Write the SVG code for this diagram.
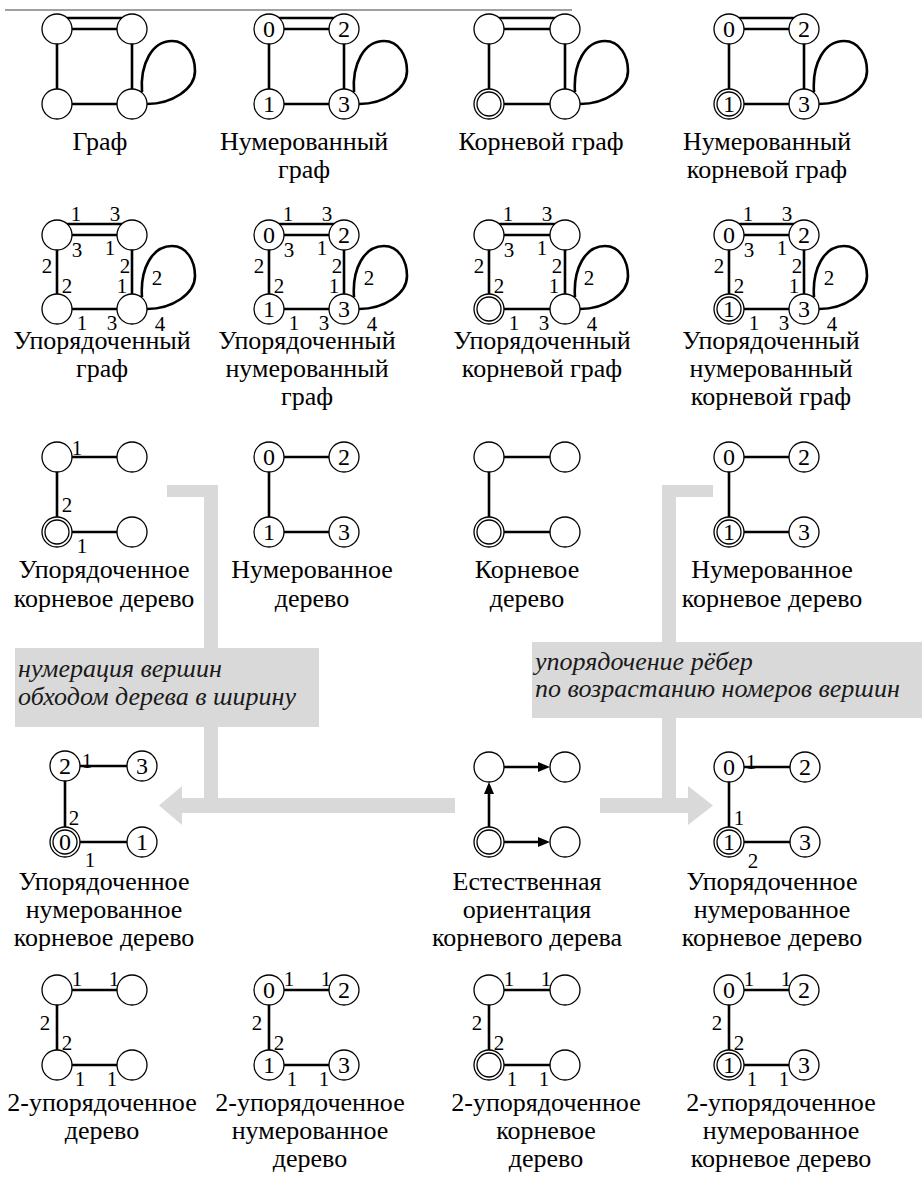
<svg xmlns="http://www.w3.org/2000/svg" width="922" height="1183" viewBox="0 0 922 1183">
<rect width="922" height="1183" fill="#fff"/>
<line x1="5" y1="10" x2="572" y2="10" stroke="#808080" stroke-width="1.5"/>
<g id="transforms" fill="#d9d9d9">
<path d="M167,485H218V798H455V813H182V825L159,805.5L182,786V798H204V497H167Z"/>
<path d="M662,485H713V497H676V798H688V786L713,805.5L688,825V813H600V798H662Z"/>
<rect x="15" y="648" width="304" height="79"/>
<rect x="532" y="642" width="390" height="76"/>
</g>
<g id="box-texts" fill="#1a1a1a">
<text x="18" y="677" font-family="Liberation Serif" font-size="26" font-style="italic">нумерация вершин</text>
<text x="18" y="705" font-family="Liberation Serif" font-size="26" font-style="italic">обходом дерева в ширину</text>
<text x="535" y="670" font-family="Liberation Serif" font-size="26" font-style="italic">упорядочение рёбер</text>
<text x="535" y="697" font-family="Liberation Serif" font-size="26" font-style="italic">по возрастанию номеров вершин</text>
</g>
<g id="connectors" stroke="#000" stroke-width="2.6" fill="none">
<path d="M57,29H132M57,18H132M57,29V104M132,29V104M57,104H132M142,92C140,64 152,41 172,41C187,41 195,56 195,71C195,89 172,104 147,104"/>
<path d="M269,29H344M269,18H344M269,29V104M344,29V104M269,104H344M354,92C352,64 364,41 384,41C399,41 407,56 407,71C407,89 384,104 359,104"/>
<path d="M489,29H565M489,18H565M489,29V104M565,29V104M489,104H565M575,92C573,64 585,41 605,41C620,41 628,56 628,71C628,89 605,104 580,104"/>
<path d="M729,29H804M729,18H804M729,29V104M804,29V104M729,104H804M814,92C812,64 824,41 844,41C859,41 867,56 867,71C867,89 844,104 819,104"/>
<path d="M57,235H132M57,224H132M57,235V309M132,235V309M57,309H132M142,297C140,269 152,246 172,246C187,246 195,261 195,276C195,294 172,309 147,309"/>
<path d="M269,235H344M269,224H344M269,235V309M344,235V309M269,309H344M354,297C352,269 364,246 384,246C399,246 407,261 407,276C407,294 384,309 359,309"/>
<path d="M489,235H565M489,224H565M489,235V309M565,235V309M489,309H565M575,297C573,269 585,246 605,246C620,246 628,261 628,276C628,294 605,309 580,309"/>
<path d="M729,235H804M729,224H804M729,235V309M804,235V309M729,309H804M814,297C812,269 824,246 844,246C859,246 867,261 867,276C867,294 844,309 819,309"/>
<path d="M57,457H132M57,457V532M57,532H132"/>
<path d="M269,457H344M269,457V532M269,532H344"/>
<path d="M489,457H565M489,457V532M489,532H565"/>
<path d="M729,457H804M729,457V532M729,532H804"/>
<path d="M65,766H142M65,766V842M65,842H142"/>
<path d="M504,767H540M489,827V792M504,842H540"/>
<path d="M729,767H805M729,767V842M729,842H805"/>
<path d="M57,990H132M57,990V1065M57,1065H132"/>
<path d="M269,990H344M269,990V1065M269,1065H344"/>
<path d="M489,990H565M489,990V1065M489,1065H565"/>
<path d="M729,990H804M729,990V1065M729,1065H804"/>
<path d="M538,762L550,767L538,772Z M484,794L489,782L494,794Z M538,837L550,842L538,847Z" fill="#000" stroke="none"/>
</g>
<g id="edge-labels" fill="#000" text-anchor="middle">
<text x="76" y="221" font-family="Liberation Serif" font-size="21">1</text><text x="115" y="221" font-family="Liberation Serif" font-size="21">3</text><text x="77" y="257" font-family="Liberation Serif" font-size="21">3</text><text x="110" y="255" font-family="Liberation Serif" font-size="21">1</text><text x="47" y="273" font-family="Liberation Serif" font-size="21">2</text><text x="67" y="293" font-family="Liberation Serif" font-size="21">2</text><text x="125" y="273" font-family="Liberation Serif" font-size="21">2</text><text x="122" y="293" font-family="Liberation Serif" font-size="21">1</text><text x="157" y="285" font-family="Liberation Serif" font-size="21">2</text><text x="82" y="330" font-family="Liberation Serif" font-size="21">1</text><text x="112" y="330" font-family="Liberation Serif" font-size="21">3</text><text x="160" y="331" font-family="Liberation Serif" font-size="21">4</text>
<text x="288" y="221" font-family="Liberation Serif" font-size="21">1</text><text x="327" y="221" font-family="Liberation Serif" font-size="21">3</text><text x="289" y="257" font-family="Liberation Serif" font-size="21">3</text><text x="322" y="255" font-family="Liberation Serif" font-size="21">1</text><text x="259" y="273" font-family="Liberation Serif" font-size="21">2</text><text x="279" y="293" font-family="Liberation Serif" font-size="21">2</text><text x="337" y="273" font-family="Liberation Serif" font-size="21">2</text><text x="334" y="293" font-family="Liberation Serif" font-size="21">1</text><text x="369" y="285" font-family="Liberation Serif" font-size="21">2</text><text x="294" y="330" font-family="Liberation Serif" font-size="21">1</text><text x="324" y="330" font-family="Liberation Serif" font-size="21">3</text><text x="372" y="331" font-family="Liberation Serif" font-size="21">4</text>
<text x="508" y="221" font-family="Liberation Serif" font-size="21">1</text><text x="547" y="221" font-family="Liberation Serif" font-size="21">3</text><text x="509" y="257" font-family="Liberation Serif" font-size="21">3</text><text x="542" y="255" font-family="Liberation Serif" font-size="21">1</text><text x="479" y="273" font-family="Liberation Serif" font-size="21">2</text><text x="499" y="293" font-family="Liberation Serif" font-size="21">2</text><text x="557" y="273" font-family="Liberation Serif" font-size="21">2</text><text x="554" y="293" font-family="Liberation Serif" font-size="21">1</text><text x="589" y="285" font-family="Liberation Serif" font-size="21">2</text><text x="514" y="330" font-family="Liberation Serif" font-size="21">1</text><text x="544" y="330" font-family="Liberation Serif" font-size="21">3</text><text x="592" y="331" font-family="Liberation Serif" font-size="21">4</text>
<text x="748" y="221" font-family="Liberation Serif" font-size="21">1</text><text x="787" y="221" font-family="Liberation Serif" font-size="21">3</text><text x="749" y="257" font-family="Liberation Serif" font-size="21">3</text><text x="782" y="255" font-family="Liberation Serif" font-size="21">1</text><text x="719" y="273" font-family="Liberation Serif" font-size="21">2</text><text x="739" y="293" font-family="Liberation Serif" font-size="21">2</text><text x="797" y="273" font-family="Liberation Serif" font-size="21">2</text><text x="794" y="293" font-family="Liberation Serif" font-size="21">1</text><text x="829" y="285" font-family="Liberation Serif" font-size="21">2</text><text x="754" y="330" font-family="Liberation Serif" font-size="21">1</text><text x="784" y="330" font-family="Liberation Serif" font-size="21">3</text><text x="832" y="331" font-family="Liberation Serif" font-size="21">4</text>
<text x="77" y="455" font-family="Liberation Serif" font-size="21">1</text><text x="67" y="512" font-family="Liberation Serif" font-size="21">2</text><text x="82" y="553" font-family="Liberation Serif" font-size="21">1</text>
<text x="87" y="768" font-family="Liberation Serif" font-size="21">1</text><text x="74" y="825" font-family="Liberation Serif" font-size="21">2</text><text x="90" y="867" font-family="Liberation Serif" font-size="21">1</text>
<text x="751" y="769" font-family="Liberation Serif" font-size="21">1</text><text x="739" y="825" font-family="Liberation Serif" font-size="21">1</text><text x="753" y="868" font-family="Liberation Serif" font-size="21">2</text>
<text x="77" y="986" font-family="Liberation Serif" font-size="21">1</text><text x="114" y="986" font-family="Liberation Serif" font-size="21">1</text><text x="45" y="1030" font-family="Liberation Serif" font-size="21">2</text><text x="67" y="1050" font-family="Liberation Serif" font-size="21">2</text><text x="80" y="1086" font-family="Liberation Serif" font-size="21">1</text><text x="112" y="1086" font-family="Liberation Serif" font-size="21">1</text>
<text x="289" y="986" font-family="Liberation Serif" font-size="21">1</text><text x="326" y="986" font-family="Liberation Serif" font-size="21">1</text><text x="257" y="1030" font-family="Liberation Serif" font-size="21">2</text><text x="279" y="1050" font-family="Liberation Serif" font-size="21">2</text><text x="292" y="1086" font-family="Liberation Serif" font-size="21">1</text><text x="324" y="1086" font-family="Liberation Serif" font-size="21">1</text>
<text x="509" y="986" font-family="Liberation Serif" font-size="21">1</text><text x="546" y="986" font-family="Liberation Serif" font-size="21">1</text><text x="477" y="1030" font-family="Liberation Serif" font-size="21">2</text><text x="499" y="1050" font-family="Liberation Serif" font-size="21">2</text><text x="512" y="1086" font-family="Liberation Serif" font-size="21">1</text><text x="544" y="1086" font-family="Liberation Serif" font-size="21">1</text>
<text x="749" y="986" font-family="Liberation Serif" font-size="21">1</text><text x="786" y="986" font-family="Liberation Serif" font-size="21">1</text><text x="717" y="1030" font-family="Liberation Serif" font-size="21">2</text><text x="739" y="1050" font-family="Liberation Serif" font-size="21">2</text><text x="752" y="1086" font-family="Liberation Serif" font-size="21">1</text><text x="784" y="1086" font-family="Liberation Serif" font-size="21">1</text>
</g>
<g id="nodes" fill="#fff" stroke="#000" stroke-width="1.3">
<g id="n11a"><circle cx="57" cy="29" r="15"/></g>
<g id="n11b"><circle cx="132" cy="29" r="15"/></g>
<g id="n11c"><circle cx="57" cy="104" r="15"/></g>
<g id="n11d"><circle cx="132" cy="104" r="15"/></g>
<g id="n12a"><circle cx="269" cy="29" r="15"/></g>
<g id="n12b"><circle cx="344" cy="29" r="15"/></g>
<g id="n12c"><circle cx="269" cy="104" r="15"/></g>
<g id="n12d"><circle cx="344" cy="104" r="15"/></g>
<g id="n13a"><circle cx="489" cy="29" r="15"/></g>
<g id="n13b"><circle cx="565" cy="29" r="15"/></g>
<g id="n13c"><circle cx="489" cy="104" r="15"/><circle cx="489" cy="104" r="12"/></g>
<g id="n13d"><circle cx="565" cy="104" r="15"/></g>
<g id="n14a"><circle cx="729" cy="29" r="15"/></g>
<g id="n14b"><circle cx="804" cy="29" r="15"/></g>
<g id="n14c"><circle cx="729" cy="104" r="15"/><circle cx="729" cy="104" r="12"/></g>
<g id="n14d"><circle cx="804" cy="104" r="15"/></g>
<g id="n21a"><circle cx="57" cy="235" r="15"/></g>
<g id="n21b"><circle cx="132" cy="235" r="15"/></g>
<g id="n21c"><circle cx="57" cy="309" r="15"/></g>
<g id="n21d"><circle cx="132" cy="309" r="15"/></g>
<g id="n22a"><circle cx="269" cy="235" r="15"/></g>
<g id="n22b"><circle cx="344" cy="235" r="15"/></g>
<g id="n22c"><circle cx="269" cy="309" r="15"/></g>
<g id="n22d"><circle cx="344" cy="309" r="15"/></g>
<g id="n23a"><circle cx="489" cy="235" r="15"/></g>
<g id="n23b"><circle cx="565" cy="235" r="15"/></g>
<g id="n23c"><circle cx="489" cy="309" r="15"/><circle cx="489" cy="309" r="12"/></g>
<g id="n23d"><circle cx="565" cy="309" r="15"/></g>
<g id="n24a"><circle cx="729" cy="235" r="15"/></g>
<g id="n24b"><circle cx="804" cy="235" r="15"/></g>
<g id="n24c"><circle cx="729" cy="309" r="15"/><circle cx="729" cy="309" r="12"/></g>
<g id="n24d"><circle cx="804" cy="309" r="15"/></g>
<g id="n31a"><circle cx="57" cy="457" r="15"/></g>
<g id="n31b"><circle cx="132" cy="457" r="15"/></g>
<g id="n31c"><circle cx="57" cy="532" r="15"/><circle cx="57" cy="532" r="12"/></g>
<g id="n31d"><circle cx="132" cy="532" r="15"/></g>
<g id="n32a"><circle cx="269" cy="457" r="15"/></g>
<g id="n32b"><circle cx="344" cy="457" r="15"/></g>
<g id="n32c"><circle cx="269" cy="532" r="15"/></g>
<g id="n32d"><circle cx="344" cy="532" r="15"/></g>
<g id="n33a"><circle cx="489" cy="457" r="15"/></g>
<g id="n33b"><circle cx="565" cy="457" r="15"/></g>
<g id="n33c"><circle cx="489" cy="532" r="15"/><circle cx="489" cy="532" r="12"/></g>
<g id="n33d"><circle cx="565" cy="532" r="15"/></g>
<g id="n34a"><circle cx="729" cy="457" r="15"/></g>
<g id="n34b"><circle cx="804" cy="457" r="15"/></g>
<g id="n34c"><circle cx="729" cy="532" r="15"/><circle cx="729" cy="532" r="12"/></g>
<g id="n34d"><circle cx="804" cy="532" r="15"/></g>
<g id="n41a"><circle cx="65" cy="766" r="15"/></g>
<g id="n41b"><circle cx="142" cy="766" r="15"/></g>
<g id="n41c"><circle cx="65" cy="842" r="15"/><circle cx="65" cy="842" r="12"/></g>
<g id="n41d"><circle cx="142" cy="842" r="15"/></g>
<g id="n42a"><circle cx="489" cy="767" r="15"/></g>
<g id="n42b"><circle cx="565" cy="767" r="15"/></g>
<g id="n42c"><circle cx="489" cy="842" r="15"/><circle cx="489" cy="842" r="12"/></g>
<g id="n42d"><circle cx="565" cy="842" r="15"/></g>
<g id="n43a"><circle cx="729" cy="767" r="15"/></g>
<g id="n43b"><circle cx="805" cy="767" r="15"/></g>
<g id="n43c"><circle cx="729" cy="842" r="15"/><circle cx="729" cy="842" r="12"/></g>
<g id="n43d"><circle cx="805" cy="842" r="15"/></g>
<g id="n51a"><circle cx="57" cy="990" r="15"/></g>
<g id="n51b"><circle cx="132" cy="990" r="15"/></g>
<g id="n51c"><circle cx="57" cy="1065" r="15"/></g>
<g id="n51d"><circle cx="132" cy="1065" r="15"/></g>
<g id="n52a"><circle cx="269" cy="990" r="15"/></g>
<g id="n52b"><circle cx="344" cy="990" r="15"/></g>
<g id="n52c"><circle cx="269" cy="1065" r="15"/></g>
<g id="n52d"><circle cx="344" cy="1065" r="15"/></g>
<g id="n53a"><circle cx="489" cy="990" r="15"/></g>
<g id="n53b"><circle cx="565" cy="990" r="15"/></g>
<g id="n53c"><circle cx="489" cy="1065" r="15"/><circle cx="489" cy="1065" r="12"/></g>
<g id="n53d"><circle cx="565" cy="1065" r="15"/></g>
<g id="n54a"><circle cx="729" cy="990" r="15"/></g>
<g id="n54b"><circle cx="804" cy="990" r="15"/></g>
<g id="n54c"><circle cx="729" cy="1065" r="15"/><circle cx="729" cy="1065" r="12"/></g>
<g id="n54d"><circle cx="804" cy="1065" r="15"/></g>
</g>
<g id="node-numbers" fill="#000" text-anchor="middle">
<text x="269" y="37" font-family="Liberation Serif" font-size="24">0</text><text x="344" y="37" font-family="Liberation Serif" font-size="24">2</text><text x="269" y="112" font-family="Liberation Serif" font-size="24">1</text><text x="344" y="112" font-family="Liberation Serif" font-size="24">3</text>
<text x="729" y="37" font-family="Liberation Serif" font-size="24">0</text><text x="804" y="37" font-family="Liberation Serif" font-size="24">2</text><text x="729" y="112" font-family="Liberation Serif" font-size="24">1</text><text x="804" y="112" font-family="Liberation Serif" font-size="24">3</text>
<text x="269" y="243" font-family="Liberation Serif" font-size="24">0</text><text x="344" y="243" font-family="Liberation Serif" font-size="24">2</text><text x="269" y="317" font-family="Liberation Serif" font-size="24">1</text><text x="344" y="317" font-family="Liberation Serif" font-size="24">3</text>
<text x="729" y="243" font-family="Liberation Serif" font-size="24">0</text><text x="804" y="243" font-family="Liberation Serif" font-size="24">2</text><text x="729" y="317" font-family="Liberation Serif" font-size="24">1</text><text x="804" y="317" font-family="Liberation Serif" font-size="24">3</text>
<text x="269" y="465" font-family="Liberation Serif" font-size="24">0</text><text x="344" y="465" font-family="Liberation Serif" font-size="24">2</text><text x="269" y="540" font-family="Liberation Serif" font-size="24">1</text><text x="344" y="540" font-family="Liberation Serif" font-size="24">3</text>
<text x="729" y="465" font-family="Liberation Serif" font-size="24">0</text><text x="804" y="465" font-family="Liberation Serif" font-size="24">2</text><text x="729" y="540" font-family="Liberation Serif" font-size="24">1</text><text x="804" y="540" font-family="Liberation Serif" font-size="24">3</text>
<text x="65" y="774" font-family="Liberation Serif" font-size="24">2</text><text x="142" y="774" font-family="Liberation Serif" font-size="24">3</text><text x="65" y="850" font-family="Liberation Serif" font-size="24">0</text><text x="142" y="850" font-family="Liberation Serif" font-size="24">1</text>
<text x="729" y="775" font-family="Liberation Serif" font-size="24">0</text><text x="805" y="775" font-family="Liberation Serif" font-size="24">2</text><text x="729" y="850" font-family="Liberation Serif" font-size="24">1</text><text x="805" y="850" font-family="Liberation Serif" font-size="24">3</text>
<text x="269" y="998" font-family="Liberation Serif" font-size="24">0</text><text x="344" y="998" font-family="Liberation Serif" font-size="24">2</text><text x="269" y="1073" font-family="Liberation Serif" font-size="24">1</text><text x="344" y="1073" font-family="Liberation Serif" font-size="24">3</text>
<text x="729" y="998" font-family="Liberation Serif" font-size="24">0</text><text x="804" y="998" font-family="Liberation Serif" font-size="24">2</text><text x="729" y="1073" font-family="Liberation Serif" font-size="24">1</text><text x="804" y="1073" font-family="Liberation Serif" font-size="24">3</text>
</g>
<g id="captions" fill="#000" text-anchor="middle">
<text x="100" y="150" font-family="Liberation Serif" font-size="26">Граф</text>
<text x="304" y="150" font-family="Liberation Serif" font-size="26">Нумерованный</text><text x="304" y="178" font-family="Liberation Serif" font-size="26">граф</text>
<text x="541" y="150" font-family="Liberation Serif" font-size="26">Корневой граф</text>
<text x="767" y="150" font-family="Liberation Serif" font-size="26">Нумерованный</text><text x="767" y="178" font-family="Liberation Serif" font-size="26">корневой граф</text>
<text x="102" y="349" font-family="Liberation Serif" font-size="26">Упорядоченный</text><text x="102" y="377" font-family="Liberation Serif" font-size="26">граф</text>
<text x="307" y="349" font-family="Liberation Serif" font-size="26">Упорядоченный</text><text x="307" y="377" font-family="Liberation Serif" font-size="26">нумерованный</text><text x="307" y="405" font-family="Liberation Serif" font-size="26">граф</text>
<text x="542" y="349" font-family="Liberation Serif" font-size="26">Упорядоченный</text><text x="542" y="377" font-family="Liberation Serif" font-size="26">корневой граф</text>
<text x="771" y="349" font-family="Liberation Serif" font-size="26">Упорядоченный</text><text x="771" y="377" font-family="Liberation Serif" font-size="26">нумерованный</text><text x="771" y="405" font-family="Liberation Serif" font-size="26">корневой граф</text>
<text x="104" y="578" font-family="Liberation Serif" font-size="26">Упорядоченное</text><text x="104" y="607" font-family="Liberation Serif" font-size="26">корневое дерево</text>
<text x="312" y="578" font-family="Liberation Serif" font-size="26">Нумерованное</text><text x="312" y="607" font-family="Liberation Serif" font-size="26">дерево</text>
<text x="527" y="578" font-family="Liberation Serif" font-size="26">Корневое</text><text x="527" y="607" font-family="Liberation Serif" font-size="26">дерево</text>
<text x="772" y="578" font-family="Liberation Serif" font-size="26">Нумерованное</text><text x="772" y="607" font-family="Liberation Serif" font-size="26">корневое дерево</text>
<text x="104" y="890" font-family="Liberation Serif" font-size="26">Упорядоченное</text><text x="104" y="918" font-family="Liberation Serif" font-size="26">нумерованное</text><text x="104" y="946" font-family="Liberation Serif" font-size="26">корневое дерево</text>
<text x="527" y="890" font-family="Liberation Serif" font-size="26">Естественная</text><text x="527" y="918" font-family="Liberation Serif" font-size="26">ориентация</text><text x="527" y="946" font-family="Liberation Serif" font-size="26">корневого дерева</text>
<text x="772" y="890" font-family="Liberation Serif" font-size="26">Упорядоченное</text><text x="772" y="918" font-family="Liberation Serif" font-size="26">нумерованное</text><text x="772" y="946" font-family="Liberation Serif" font-size="26">корневое дерево</text>
<text x="102" y="1111" font-family="Liberation Serif" font-size="26">2-упорядоченное</text><text x="102" y="1139" font-family="Liberation Serif" font-size="26">дерево</text>
<text x="310" y="1111" font-family="Liberation Serif" font-size="26">2-упорядоченное</text><text x="310" y="1139" font-family="Liberation Serif" font-size="26">нумерованное</text><text x="310" y="1167" font-family="Liberation Serif" font-size="26">дерево</text>
<text x="546" y="1111" font-family="Liberation Serif" font-size="26">2-упорядоченное</text><text x="546" y="1139" font-family="Liberation Serif" font-size="26">корневое</text><text x="546" y="1167" font-family="Liberation Serif" font-size="26">дерево</text>
<text x="781" y="1111" font-family="Liberation Serif" font-size="26">2-упорядоченное</text><text x="781" y="1139" font-family="Liberation Serif" font-size="26">нумерованное</text><text x="781" y="1167" font-family="Liberation Serif" font-size="26">корневое дерево</text>
</g>
</svg>
